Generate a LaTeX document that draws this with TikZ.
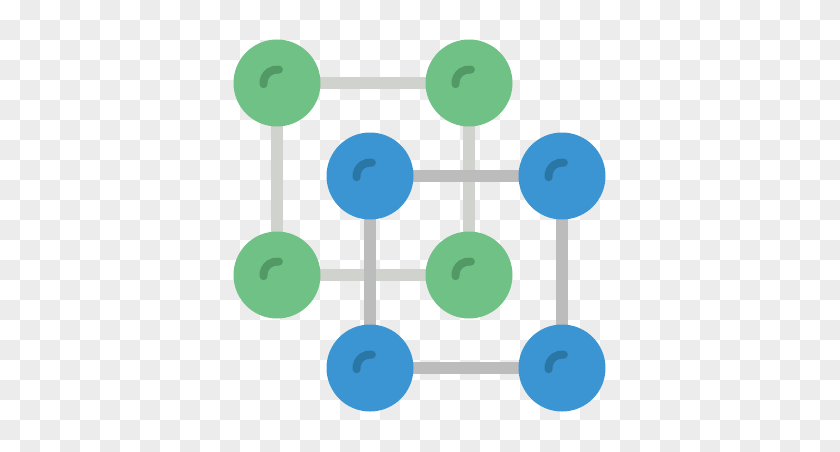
\documentclass[tikz,border=0pt]{standalone}
\usetikzlibrary{backgrounds}
\definecolor{atomgreen}{RGB}{112,193,133}
\definecolor{atomgreendark}{RGB}{82,153,102}
\definecolor{atomblue}{RGB}{58,149,210}
\definecolor{atombluedark}{RGB}{42,119,166}
\definecolor{barlight}{RGB}{208,210,206}
\definecolor{bardark}{RGB}{188,188,188}
\definecolor{checkgray}{RGB}{236,236,236}
\tikzset{
  atom/.style={
    circle,
    minimum size=87pt,
    inner sep=0pt,
    draw=none
  },
  greenatom/.style={
    atom,
    fill=atomgreen,
    path picture={\draw[line width=8pt, line cap=round, draw=atomgreendark]
      ([shift={(185:13.5pt)}]path picture bounding box.center) arc[start angle=185, end angle=82, radius=13.5pt];}
  },
  blueatom/.style={
    atom,
    fill=atomblue,
    path picture={\draw[line width=8pt, line cap=round, draw=atombluedark]
      ([shift={(185:13.5pt)}]path picture bounding box.center) arc[start angle=185, end angle=82, radius=13.5pt];}
  },
  greenbar/.style={
    line width=12pt,
    draw=barlight
  },
  bluebar/.style={
    line width=12pt,
    draw=bardark
  }
}
\begin{document}
\begin{tikzpicture}[x=1pt,y=1pt]
    \useasboundingbox (0,0) rectangle (840,451);
    \clip (0,0) rectangle (840,451);

    % green lattice
    \node (gtl) [greenatom] at (277,368) {};
    \node (gtr) [greenatom] at (469,368) {};
    \node (gbl) [greenatom] at (277,176) {};
    \node (gbr) [greenatom] at (469,176) {};

    % blue lattice
    \node (btl) [blueatom] at (370,275) {};
    \node (btr) [blueatom] at (562,275) {};
    \node (bbl) [blueatom] at (370,83) {};
    \node (bbr) [blueatom] at (562,83) {};

    \begin{pgfonlayer}{background}
      % checkerboard
      \foreach \i in {0,...,41} {
        \foreach \j in {0,...,22} {
          \pgfmathtruncatemacro\parity{\i+\j}
          \ifodd\parity
            \fill[checkgray] (20*\i,451-20*\j) rectangle ++(20,-20);
          \fi
        }
      }
      \draw[greenbar] (gtl.center) -- (gtr.center);
      \draw[greenbar] (gtl.center) -- (gbl.center);
      \draw[greenbar] (gtr.center) -- (gbr.center);
      \draw[greenbar] (gbl.center) -- (gbr.center);
      \draw[bluebar] (btl.center) -- (btr.center);
      \draw[bluebar] (btl.center) -- (bbl.center);
      \draw[bluebar] (btr.center) -- (bbr.center);
      \draw[bluebar] (bbl.center) -- (bbr.center);
    \end{pgfonlayer}
\end{tikzpicture}
\end{document}
